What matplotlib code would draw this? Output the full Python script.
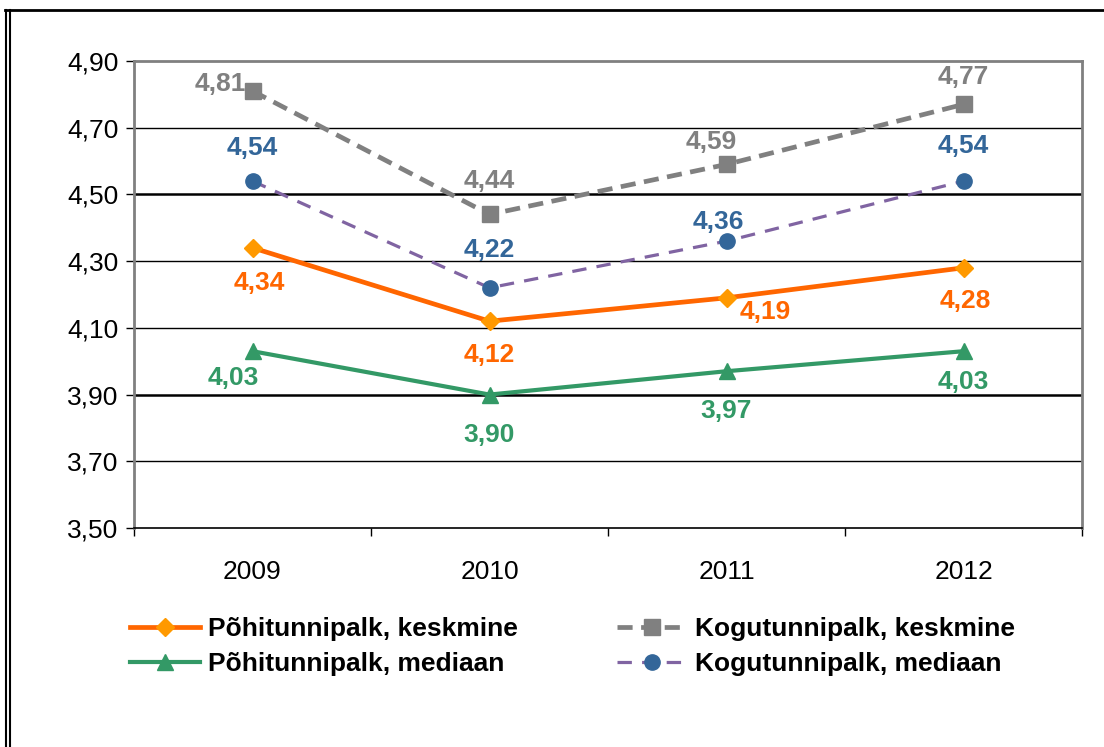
import matplotlib.pyplot as plt
from matplotlib.lines import Line2D
from matplotlib.ticker import FixedLocator

plt.rcParams['font.family'] = ['Liberation Sans', 'DejaVu Sans']

# andmed
years = ['2009', '2010', '2011', '2012']
pohi_kesk = [4.34, 4.12, 4.19, 4.28]
kogu_kesk = [4.81, 4.44, 4.59, 4.77]
pohi_med = [4.03, 3.90, 3.97, 4.03]
kogu_med = [4.54, 4.22, 4.36, 4.54]
y_ticks = [3.50, 3.70, 3.90, 4.10, 4.30, 4.50, 4.70, 4.90]

x = list(range(len(years)))

fig = plt.figure(figsize=(11.04, 7.47), dpi=100)
ax = fig.add_axes([134 / 1104, 1 - 528 / 747, (1082 - 134) / 1104, (528 - 61) / 747])

# ruudustik
for t in y_ticks[1:-1]:
    lw = 1.8 if t in (3.90, 4.50) else 1.0
    ax.axhline(t, color='black', lw=lw, zorder=1)

ax.plot(x, kogu_kesk, color='#808080', lw=3.4, ls=(0, (3.2, 1.8)), marker='s', ms=11,
        label='Kogutunnipalk, keskmine', zorder=3)
ax.plot(x, kogu_med, color='#8064A2', lw=2.3, ls=(0, (4.5, 3.2)), marker='o', ms=11,
        mfc='#336699', mec='#336699', label='Kogutunnipalk, mediaan', zorder=3)
ax.plot(x, pohi_kesk, color='#FF6600', lw=3.4, marker='D', ms=9,
        mfc='#FF9900', mec='#FF9900', label='Põhitunnipalk, keskmine', zorder=4)
ax.plot(x, pohi_med, color='#339966', lw=3.0, marker='^', ms=11,
        label='Põhitunnipalk, mediaan', zorder=4)

def lab(v):
    return f'{v:.2f}'.replace('.', ',')

fs = 19
# andmesildid (nihe punktides)
kogu_kesk_off = [(-23, 5), (0, 24), (-11, 16), (0, 20)]
kogu_med_off = [(0, 24), (0, 27), (-6, 14), (0, 25)]
pohi_kesk_off = [(5, -25), (0, -24), (28, -10), (1, -24)]
pohi_med_off = [(-14, -19), (0, -29), (0, -29), (0, -22)]
for series, offs, col in [(kogu_kesk, kogu_kesk_off, '#808080'),
                          (kogu_med, kogu_med_off, '#336699'),
                          (pohi_kesk, pohi_kesk_off, '#FF6600'),
                          (pohi_med, pohi_med_off, '#339966')]:
    for xi, v, (dx, dy) in zip(x, series, offs):
        ax.annotate(lab(v), (xi, v), xytext=(dx, dy), textcoords='offset points',
                    ha='center', va='center', fontsize=fs, fontweight='bold', color=col)

ax.set_xlim(-0.5, 3.5)
ax.set_ylim(3.50, 4.90)
ax.set_yticks(y_ticks)
ax.set_yticklabels([lab(t) for t in y_ticks], fontsize=19)
ax.set_xticks(x)
ax.set_xticklabels(years, fontsize=19)
ax.xaxis.set_minor_locator(FixedLocator([-0.5, 0.5, 1.5, 2.5, 3.5]))
ax.tick_params(axis='x', which='major', length=0, pad=23)
ax.tick_params(axis='x', which='minor', length=6, width=1, color='black')
ax.tick_params(axis='y', length=6, width=1, color='black', pad=5)

for s in ['left', 'top', 'right']:
    ax.spines[s].set_color('#808080')
    ax.spines[s].set_linewidth(2)
ax.spines['bottom'].set_color('black')
ax.spines['bottom'].set_linewidth(1.2)

h, l = ax.get_legend_handles_labels()
order = [2, 3, 0, 1]
leg = fig.legend([h[i] for i in order], [l[i] for i in order], ncol=2,
                 loc='upper left', bbox_to_anchor=(106 / 1104, 1 - 593 / 747),
                 frameon=False, prop={'size': 19, 'weight': 'bold'},
                 handlelength=2.65, columnspacing=3.78, labelspacing=0.43,
                 handletextpad=0.3)

# välimine raam
fig.add_artist(Line2D([6 / 1104, 6 / 1104], [0, 1 - 10 / 747], color='black', lw=1.5))
fig.add_artist(Line2D([10 / 1104, 10 / 1104], [0, 1 - 10 / 747], color='black', lw=1.5))
fig.add_artist(Line2D([5 / 1104, 1], [1 - 10 / 747, 1 - 10 / 747], color='black', lw=2))

fig.savefig('out.png', dpi=100)
